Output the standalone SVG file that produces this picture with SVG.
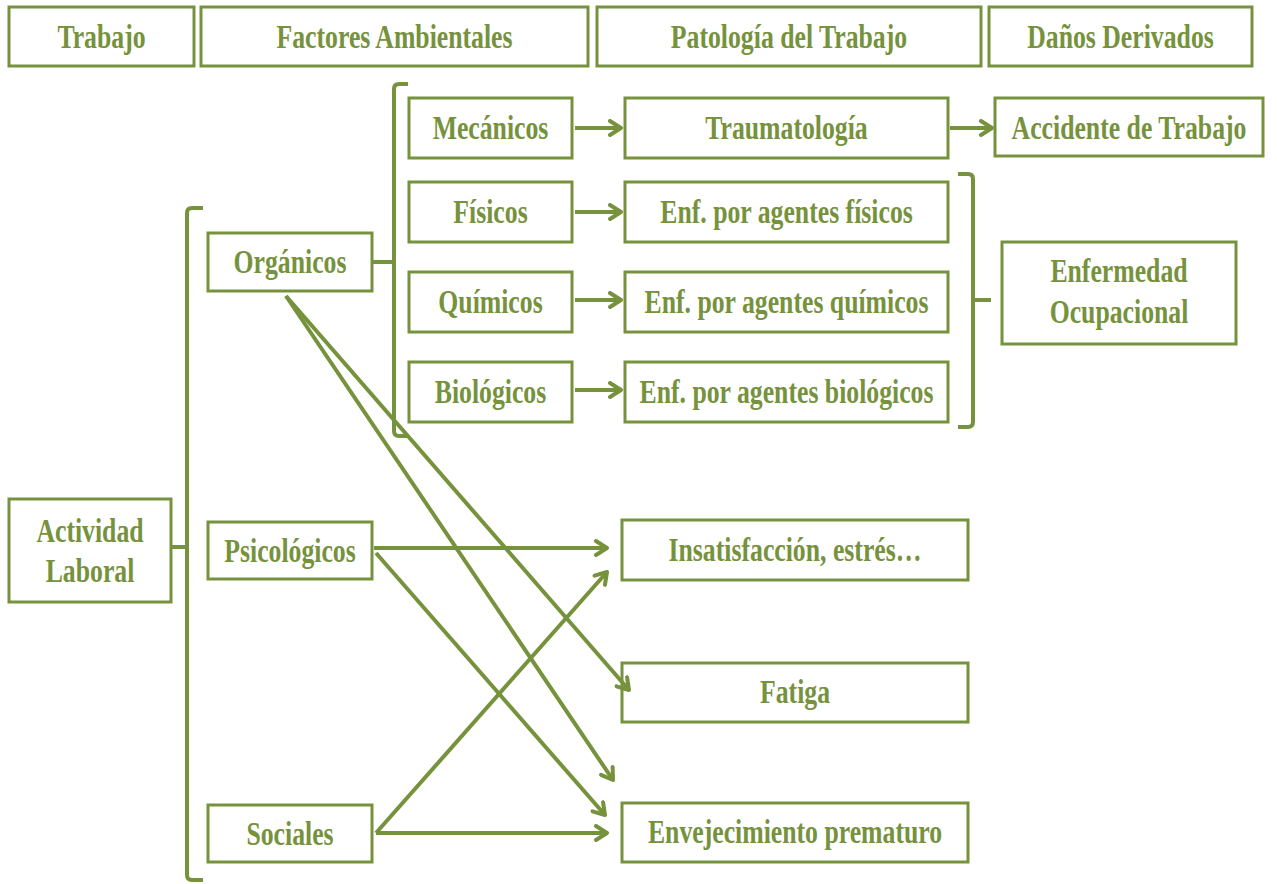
<svg xmlns="http://www.w3.org/2000/svg" width="1277" height="884" viewBox="0 0 1277 884">
  <defs>
    <style>
      .box { fill: #ffffff; stroke: #76923C; stroke-width: 3; }
      .lbl { font-family: "Liberation Serif", "Times New Roman", serif; font-weight: bold; font-size: 33px; fill: #76923C; text-anchor: middle; }
      .ln { fill: none; stroke: #76923C; stroke-width: 4; }
      .arw { fill: none; stroke: #76923C; stroke-width: 4; marker-end: url(#arrow); }
    </style>
    <marker id="arrow" viewBox="0 0 18 18" refX="15" refY="9" markerWidth="18" markerHeight="18" markerUnits="userSpaceOnUse" orient="auto">
      <path d="M4,2 L15,9 L4,16" fill="none" stroke="#76923C" stroke-width="4" stroke-linecap="round" stroke-linejoin="round"/>
    </marker>
  </defs>
  <rect width="1277" height="884" fill="#ffffff"/>

  <!-- column headers -->
  <g id="hdr-trabajo">
    <rect class="box" x="9" y="7" width="185" height="59"/>
    <text class="lbl" transform="translate(101.5,48) scale(0.78,1)">Trabajo</text>
  </g>
  <g id="hdr-factores">
    <rect class="box" x="201" y="7" width="387" height="59"/>
    <text class="lbl" transform="translate(394.5,48) scale(0.78,1)">Factores Ambientales</text>
  </g>
  <g id="hdr-patologia">
    <rect class="box" x="597" y="7" width="384" height="59"/>
    <text class="lbl" transform="translate(789,48) scale(0.78,1)">Patología del Trabajo</text>
  </g>
  <g id="hdr-danos">
    <rect class="box" x="989" y="7" width="263" height="59"/>
    <text class="lbl" transform="translate(1120.5,48) scale(0.78,1)">Daños Derivados</text>
  </g>

  <!-- work activity -->
  <g id="actividad">
    <rect class="box" x="9" y="499" width="162" height="103"/>
    <text class="lbl" transform="translate(90,542) scale(0.78,1)">Actividad</text>
    <text class="lbl" transform="translate(90,582) scale(0.78,1)">Laboral</text>
  </g>

  <!-- factor groups -->
  <g id="organicos">
    <rect class="box" x="208" y="233" width="164" height="58"/>
    <text class="lbl" transform="translate(290,273) scale(0.78,1)">Orgánicos</text>
  </g>
  <g id="psicologicos">
    <rect class="box" x="208" y="522" width="164" height="57"/>
    <text class="lbl" transform="translate(290,562) scale(0.78,1)">Psicológicos</text>
  </g>
  <g id="sociales">
    <rect class="box" x="208" y="805" width="164" height="57"/>
    <text class="lbl" transform="translate(290,845) scale(0.78,1)">Sociales</text>
  </g>

  <!-- organic factors -->
  <g id="mecanicos">
    <rect class="box" x="409" y="98" width="163" height="60"/>
    <text class="lbl" transform="translate(490.5,139) scale(0.78,1)">Mecánicos</text>
  </g>
  <g id="fisicos">
    <rect class="box" x="409" y="182" width="163" height="60"/>
    <text class="lbl" transform="translate(490.5,223) scale(0.78,1)">Físicos</text>
  </g>
  <g id="quimicos">
    <rect class="box" x="409" y="272" width="163" height="60"/>
    <text class="lbl" transform="translate(490.5,313) scale(0.78,1)">Químicos</text>
  </g>
  <g id="biologicos">
    <rect class="box" x="409" y="362" width="163" height="60"/>
    <text class="lbl" transform="translate(490.5,403) scale(0.78,1)">Biológicos</text>
  </g>

  <!-- work pathology -->
  <g id="traumatologia">
    <rect class="box" x="625" y="98" width="323" height="60"/>
    <text class="lbl" transform="translate(786.5,139) scale(0.78,1)">Traumatología</text>
  </g>
  <g id="enf-fisicos">
    <rect class="box" x="625" y="182" width="323" height="60"/>
    <text class="lbl" transform="translate(786.5,223) scale(0.78,1)">Enf. por agentes físicos</text>
  </g>
  <g id="enf-quimicos">
    <rect class="box" x="625" y="272" width="323" height="60"/>
    <text class="lbl" transform="translate(786.5,313) scale(0.78,1)">Enf. por agentes químicos</text>
  </g>
  <g id="enf-biologicos">
    <rect class="box" x="625" y="362" width="323" height="60"/>
    <text class="lbl" transform="translate(786.5,403) scale(0.78,1)">Enf. por agentes biológicos</text>
  </g>
  <g id="insatisfaccion">
    <rect class="box" x="622" y="520" width="346" height="60"/>
    <text class="lbl" transform="translate(795,561) scale(0.78,1)">Insatisfacción, estrés…</text>
  </g>
  <g id="fatiga">
    <rect class="box" x="622" y="663" width="346" height="59"/>
    <text class="lbl" transform="translate(795,703) scale(0.78,1)">Fatiga</text>
  </g>
  <g id="envejecimiento">
    <rect class="box" x="622" y="803" width="346" height="59"/>
    <text class="lbl" transform="translate(795,843) scale(0.78,1)">Envejecimiento prematuro</text>
  </g>

  <!-- derived damages -->
  <g id="accidente">
    <rect class="box" x="995" y="98" width="268" height="58"/>
    <text class="lbl" transform="translate(1129,139) scale(0.78,1)">Accidente de Trabajo</text>
  </g>
  <g id="enfermedad-ocupacional">
    <rect class="box" x="1002" y="242" width="234" height="102"/>
    <text class="lbl" transform="translate(1119,282) scale(0.78,1)">Enfermedad</text>
    <text class="lbl" transform="translate(1119,323) scale(0.78,1)">Ocupacional</text>
  </g>

  <!-- connectors: braces and arrows -->
  <g id="connectors">
    <!-- main brace from Actividad Laboral -->
    <path class="ln" d="M203,208 L192,208 Q187,208 187,213 L187,875 Q187,880 192,880 L203,880"/>
    <path class="ln" d="M171,547 L187,547"/>
    <!-- brace of organic factors -->
    <path class="ln" d="M408,84 L399,84 Q394,84 394,89 L394,431 Q394,436 399,436 L408,436"/>
    <path class="ln" d="M372,262 L394,262"/>
    <!-- brace to Enfermedad Ocupacional -->
    <path class="ln" d="M958,174 L968,174 Q973,174 973,179 L973,422 Q973,427 968,427 L958,427"/>
    <path class="ln" d="M973,300 L991,300"/>

    <!-- factor to pathology arrows -->
    <line class="arw" x1="575" y1="128" x2="621" y2="128"/>
    <line class="arw" x1="950" y1="128" x2="992" y2="128"/>
    <line class="arw" x1="575" y1="212" x2="621" y2="212"/>
    <line class="arw" x1="575" y1="300" x2="621" y2="300"/>
    <line class="arw" x1="575" y1="390" x2="621" y2="390"/>

    <!-- Orgánicos -->
    <line class="arw" x1="286" y1="296" x2="629" y2="690"/>
    <line class="arw" x1="286" y1="296" x2="613" y2="780"/>
    <!-- Psicológicos -->
    <line class="arw" x1="374" y1="548" x2="607" y2="548"/>
    <line class="arw" x1="376" y1="553" x2="605" y2="815"/>
    <!-- Sociales -->
    <line class="arw" x1="376" y1="833" x2="607" y2="833"/>
    <line class="arw" x1="376" y1="833" x2="607" y2="572"/>
  </g>
</svg>
